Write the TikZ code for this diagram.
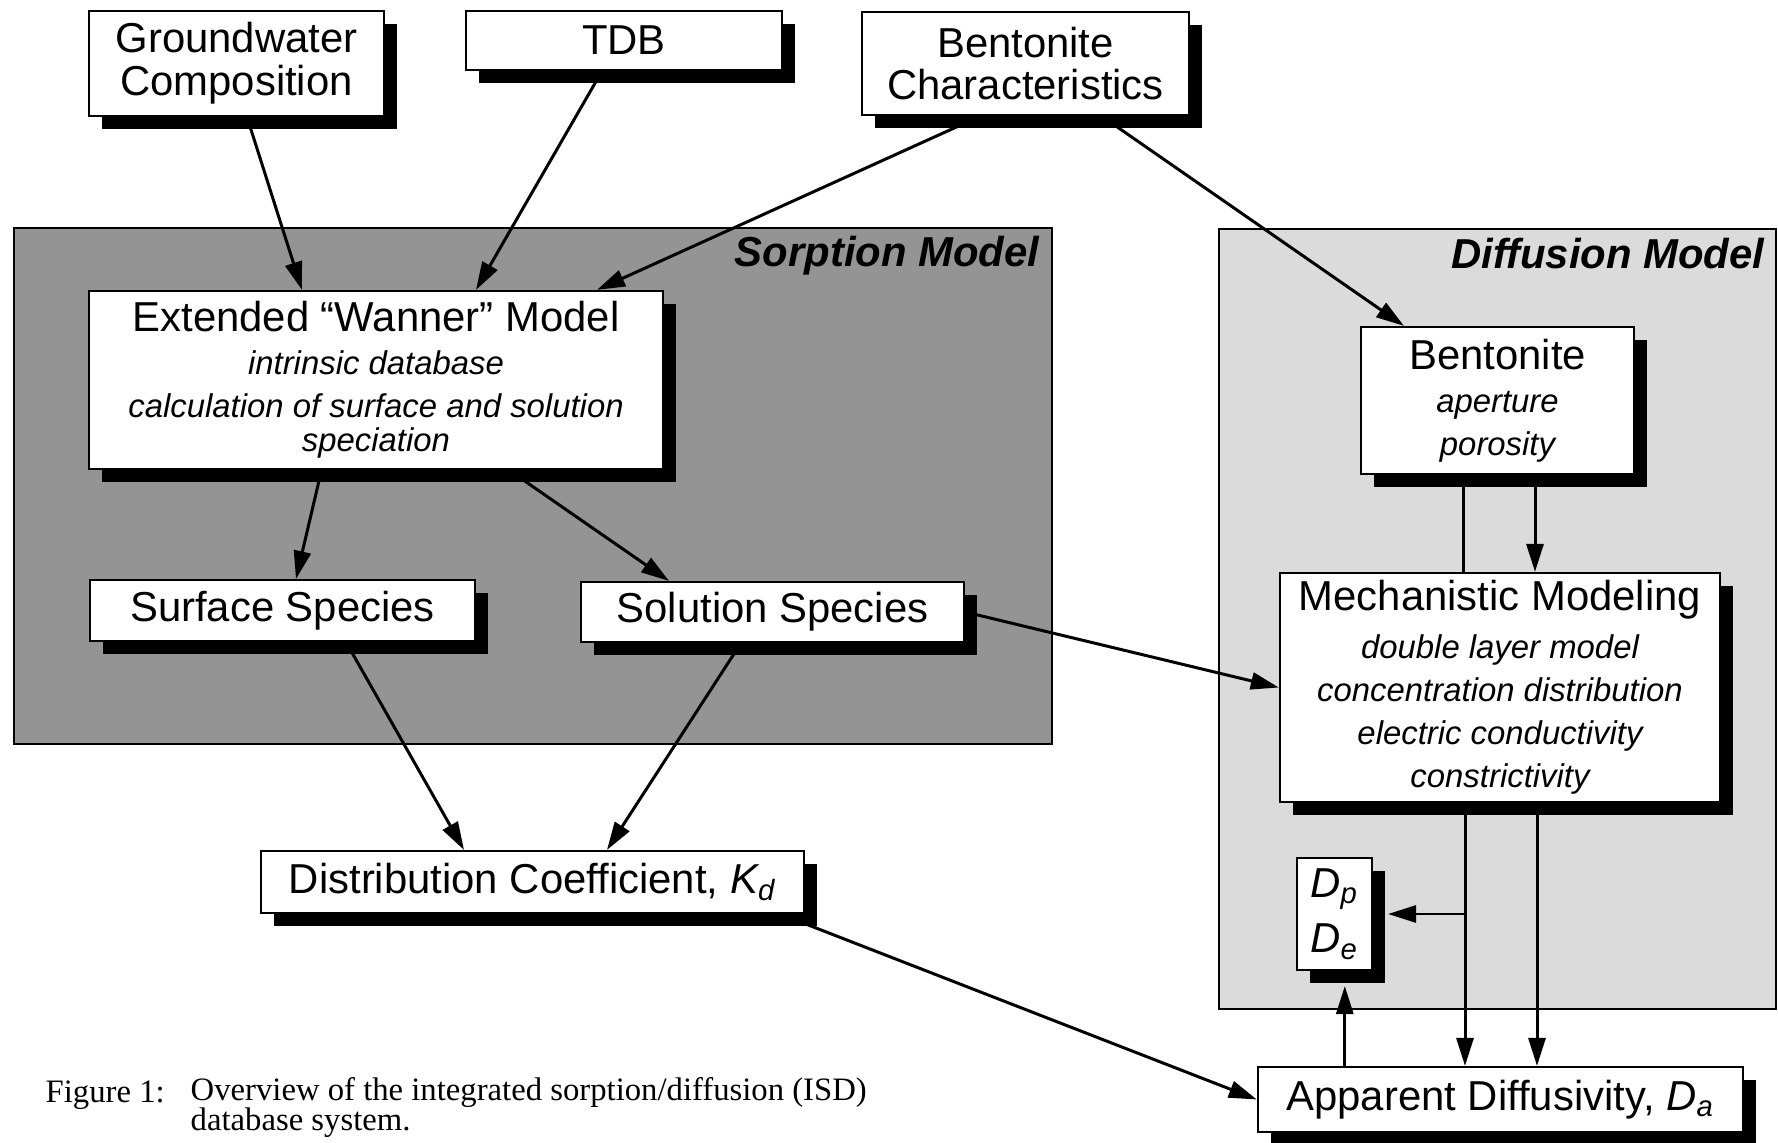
\documentclass[tikz,border=0pt]{standalone}
\usepackage{fontspec}
\setmainfont{Liberation Sans}
\newfontfamily\capfont{Liberation Serif}
\usetikzlibrary{arrows.meta, shadows, calc}

\newcommand\mainsize{\fontsize{11.9pt}{12.2pt}\selectfont}
\newcommand\subsize{\fontsize{9.35pt}{12.2pt}\selectfont\itshape}
\newcommand\capsize{\capfont\fontsize{9.3pt}{8.6pt}\selectfont}

\tikzset{
    box/.style={draw, line width=0.6pt, fill=white, inner sep=0pt, align=center,
        font=\mainsize,
        drop shadow={shadow xshift=0.13cm, shadow yshift=-0.13cm, fill=black, opacity=1}},
    arr/.style={line width=0.85pt, -{Triangle[length=0.28cm, width=0.17cm]}},
    link/.style={line width=0.85pt},
    region/.style={draw, line width=0.8pt},
    regionlabel/.style={font=\mainsize\bfseries\itshape, anchor=base east, inner sep=0pt}
}

\begin{document}
\begin{tikzpicture}[x=0.01cm, y=-0.01cm]
    \useasboundingbox (0,0) rectangle (1778,1143);

    % the two model areas
    \filldraw[region, fill=black!42] (14,228) rectangle (1052,744);
    \filldraw[region, fill=black!14] (1219,229) rectangle (1776,1009);
    \node[regionlabel] (sorplabel) at (1040,267) {Sorption Model};
    \node[regionlabel] (difflabel) at (1765,269) {Diffusion Model};

    % inputs
    \node[box, minimum width=2.95cm, minimum height=1.05cm] (gw) at (236.5,63.5) {Groundwater\\Composition};
    \node[box, minimum width=3.16cm, minimum height=0.59cm] (tdb) at (624,40.5) {TDB};
    \node[box, minimum width=3.27cm, minimum height=1.03cm] (bchar) at (1025.5,63.5) {Bentonite\\Characteristics};

    % sorption side
    \node[box, minimum width=5.74cm, minimum height=1.78cm] (ewm) at (376,380)
        {Extended “Wanner” Model\\{\subsize intrinsic database}\\{\subsize calculation of surface and solution}\\[-2.4pt]{\subsize speciation}};
    \node[box, minimum width=3.85cm, minimum height=0.61cm] (surf) at (282.5,610.5) {Surface Species};
    \node[box, minimum width=3.83cm, minimum height=0.60cm] (soln) at (772.5,612) {Solution Species};
    \node[box, minimum width=5.43cm, minimum height=0.62cm] (kd) at (532.5,882) {Distribution Coefficient, {\itshape K\textsubscript{d}}};

    % diffusion side
    \node[box, minimum width=2.73cm, minimum height=1.47cm] (bent) at (1497.5,400.5)
        {Bentonite\\{\subsize aperture}\\{\subsize porosity}};
    \node[box, minimum width=4.40cm, minimum height=2.29cm] (mech) at (1500,687.5)
        {Mechanistic Modeling\\[1.5pt]{\subsize double layer model}\\{\subsize concentration distribution}\\{\subsize electric conductivity}\\{\subsize constrictivity}};
    \node[box, minimum width=0.75cm, minimum height=1.12cm] (dpde) at (1334.5,914)
        {{\itshape D\textsubscript{p}}\\[3.5pt]{\itshape D\textsubscript{e}}};
    \node[box, minimum width=4.85cm, minimum height=0.65cm] (da) at (1500.5,1099.5) {Apparent Diffusivity, {\itshape D\textsubscript{a}}};

    % caption
    \node[anchor=base west, inner sep=0pt, font=\capsize] (figno) at (45,1102) {Figure 1:};
    \node[anchor=north west, inner sep=0pt, align=left, font=\capsize] (figtext) at (190,1077)
        {Overview of the integrated sorption/diffusion (ISD)\\database system.};

    % connectors
    \draw[arr] ($(gw.south)+(10.5,0)$) -- ($(ewm.north)+(-74,0)$);
    \draw[arr] ($(tdb.south)+(-22,0)$) -- ($(ewm.north)+(100,0)$);
    \draw[arr] ($(bchar.south)+(-45,0)$) -- ($(ewm.north)+(221,0)$);
    \draw[arr] ($(bchar.south)+(76,0)$) -- ($(bent.north)+(-93.5,0)$);
    \draw[arr] ($(ewm.south)+(-54.5,0)$) -- ($(surf.north)+(13.5,0)$);
    \draw[arr] ($(ewm.south)+(133,0)$) -- ($(soln.north)+(-103.5,0)$);
    \draw[arr] ($(surf.south)+(63.5,0)$) -- ($(kd.north)+(-68.5,0)$);
    \draw[arr] ($(soln.south)+(-31.5,0)$) -- ($(kd.north)+(74.5,0)$);
    \draw[arr] (soln.east) -- (mech.west);
    \draw[arr] ($(kd.south east)+(-25,0)$) -- (da.west);

    \coordinate (bl) at ($(bent.south)+(-34,0)$);
    \coordinate (br) at ($(bent.south)+(37.5,0)$);
    \draw[link] (bl) -- (bl |- mech.north);
    \draw[arr] (br) -- (br |- mech.north);

    \coordinate (tapl) at ($(mech.south)+(-35,0)$);
    \coordinate (tapr) at ($(mech.south)+(37,0)$);
    \draw[arr] (tapl) -- (tapl |- da.north);
    \draw[arr] (tapr) -- (tapr |- da.north);
    \draw[arr] (tapl |- dpde.east) -- ($(dpde.east)+(15,0)$);

    \coordinate (up) at ($(da.north west)+(88,0)$);
    \draw[arr] (up) -- ($(up |- dpde.south)+(0,15)$);
\end{tikzpicture}
\end{document}
